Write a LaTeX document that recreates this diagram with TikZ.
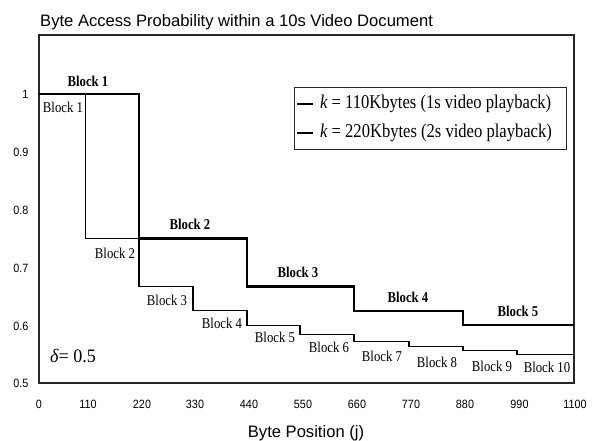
\documentclass[tikz,border=0pt]{standalone}
\usepackage{fontspec}
\setmainfont{Liberation Serif}
\setsansfont{Liberation Sans}
\newfontfamily\cserif{Liberation Serif}[FakeStretch=0.85]
\newfontfamily\dserif{Liberation Serif}[FakeStretch=0.95]
\newfontfamily\tickfont{Liberation Sans}[FakeStretch=0.9]
\begin{document}
\begin{tikzpicture}[x=1pt,y=-1pt,
  frame/.style={line width=1.1pt, draw=black!85},
  thinline/.style={line width=1.1pt, line join=miter},
  thickline/.style={line width=2.4pt, line join=miter},
  blk/.style={font=\cserif\fontsize{15}{15}\selectfont, inner sep=0pt},
  blkb/.style={font=\cserif\fontsize{15}{15}\selectfont\bfseries, inner sep=0pt},
  ticklab/.style={font=\tickfont\fontsize{12}{12}\selectfont, inner sep=0pt},
  leg/.style={font=\cserif\fontsize{19.5}{19.5}\selectfont, inner sep=0pt, anchor=west},
  ttl/.style={font=\sffamily\fontsize{16.6}{16.6}\selectfont, inner sep=0pt}]
\useasboundingbox (0,0) rectangle (598,441);
\fill[white] (0,0) rectangle (598,441);
% title
\node[ttl, anchor=base west] (title) at (40,27) {Byte Access Probability within a 10s Video Document};
% frame
\draw[frame] (39,35) rectangle (574,383);
% y tick labels
\foreach \v/\y [count=\i] in {1/94,0.9/152.5,0.8/210,0.7/268,0.6/326,0.5/383}
  \node[ticklab, anchor=east] (yl\i) at (28.5,\y) {\v};
% x tick labels
\foreach \v/\x [count=\i] in {0/39,110/88,220/142,330/195,440/249,550/303,660/357,770/411,880/465,990/519.5,1100/575}
  \node[ticklab] (xl\i) at (\x,404) {\v};
% axis label
\node[ttl, anchor=base] (xaxis) at (306,437) {Byte Position (j)};
% k = 220 curve (thick)
\draw[thickline] (39,94) -- (139,94) -- (139,238.5) -- (247,238.5) -- (247,286.7)
  -- (354,286.7) -- (354,310.8) -- (463,310.8) -- (463,325.2) -- (574,325.2);
% k = 110 curve (thin)
\draw[thinline] (39,94) -- (85.5,94) -- (85.5,238.5) -- (139,238.5) -- (139,286.7)
  -- (193,286.7) -- (193,310.8) -- (247,310.8) -- (247,325.2) -- (300,325.2)
  -- (300,334.8) -- (354,334.8) -- (354,341.7) -- (409,341.7) -- (409,346.9)
  -- (463,346.9) -- (463,350.9) -- (517,350.9) -- (517,354.1) -- (574,354.1);
% bold block labels (k = 220)
\node[blkb] (bb1) at (88,81) {Block 1};
\node[blkb] (bb2) at (190,224) {Block 2};
\node[blkb] (bb3) at (298,272) {Block 3};
\node[blkb] (bb4) at (408,297) {Block 4};
\node[blkb] (bb5) at (518,311) {Block 5};
% thin block labels (k = 110)
\node[blk] (b1) at (63,107) {Block 1};
\node[blk] (b2) at (115,253) {Block 2};
\node[blk] (b3) at (167,300) {Block 3};
\node[blk] (b4) at (222,323) {Block 4};
\node[blk] (b5) at (275,337) {Block 5};
\node[blk] (b6) at (329,347) {Block 6};
\node[blk] (b7) at (382,356) {Block 7};
\node[blk] (b8) at (437,362) {Block 8};
\node[blk] (b9) at (492,366) {Block 9};
\node[blk] (b10) at (547,367) {Block 10};
% delta
\node[font=\dserif\fontsize{19}{19}\selectfont, inner sep=0pt] (delta) at (73,356) {{\itshape δ}= 0.5};
% legend
\node[draw=black!85, line width=1.1pt, minimum width=272pt, minimum height=62pt, anchor=north west, inner sep=0pt] (legbox) at (294,87) {};
\coordinate (l1a) at (297,104);
\coordinate (l1b) at (313,104);
\coordinate (l2a) at (297,133);
\coordinate (l2b) at (313,133);
\draw[thinline] (l1a) -- (l1b);
\draw[thickline] (l2a) -- (l2b);
\node[leg] (leg1) at (320,104) {{\itshape k} = 110Kbytes (1s video playback)};
\node[leg] (leg2) at (320,133) {{\itshape k} = 220Kbytes (2s video playback)};
\end{tikzpicture}
\end{document}
